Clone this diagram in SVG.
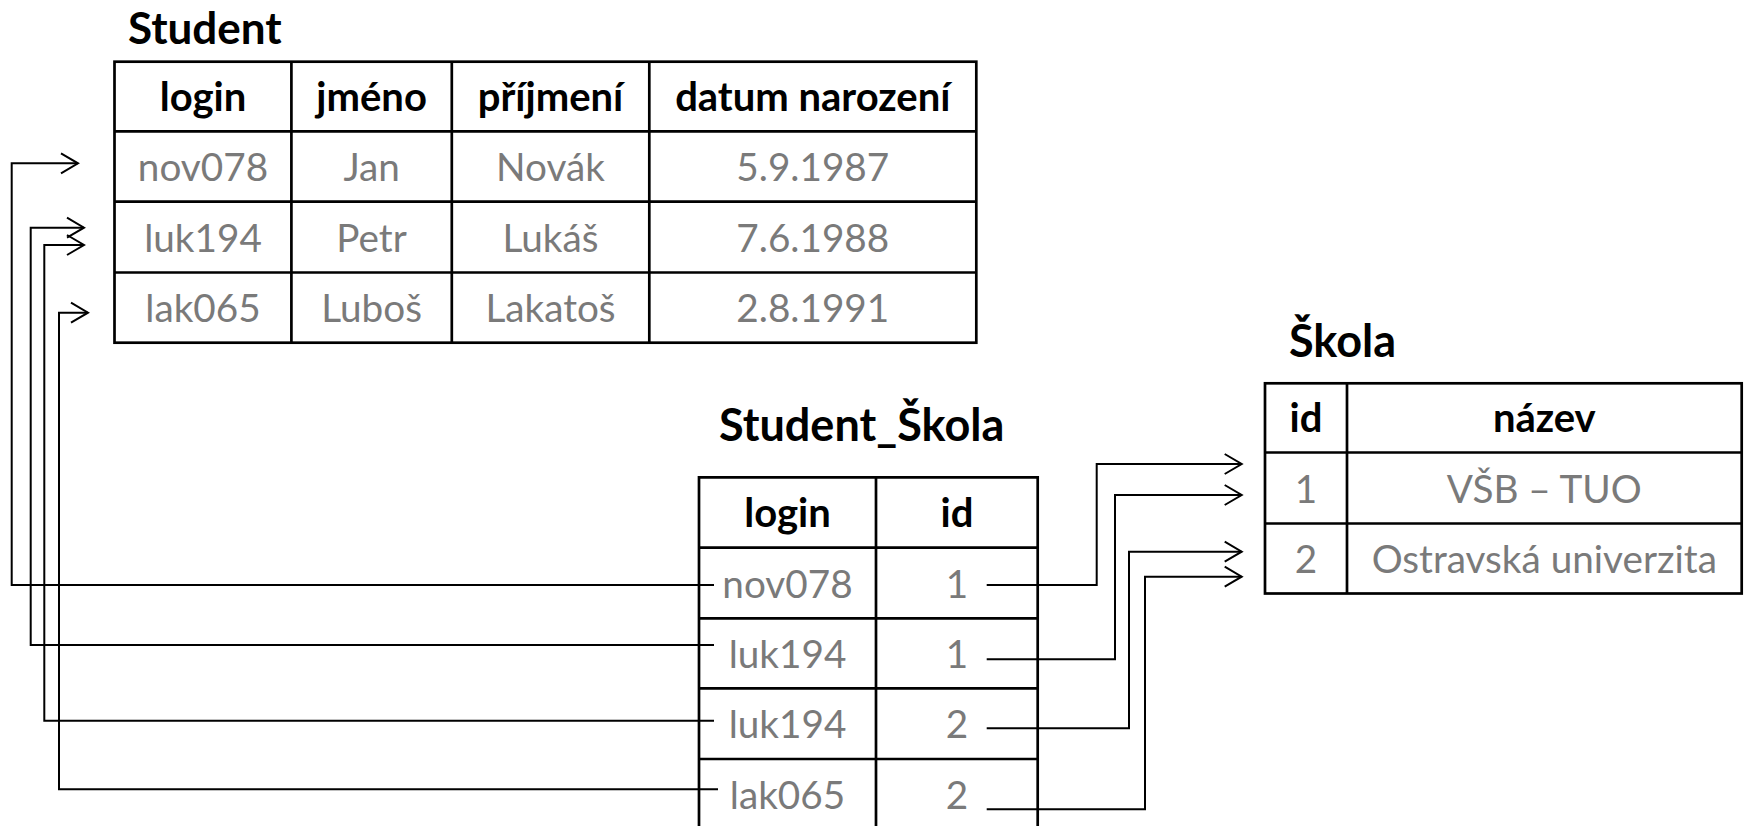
<svg xmlns="http://www.w3.org/2000/svg" width="1744" height="826" viewBox="0 0 1744 826">
<style>
.title{font-family:Lato,"Liberation Sans",sans-serif;font-weight:bold;font-size:45px;fill:#000;}
.h{font-family:Lato,"Liberation Sans",sans-serif;font-weight:bold;font-size:40px;fill:#000;text-anchor:middle;}
.c{font-family:Lato,"Liberation Sans",sans-serif;font-size:38.7px;fill:#7a7a7a;text-anchor:middle;}
.grid{stroke:#000;stroke-width:2.7;fill:none;}
.conn{stroke:#000;stroke-width:2;fill:none;}
</style>
<defs>
<marker id="arr" viewBox="-19 -12 21 24" refX="0" refY="0" markerWidth="21" markerHeight="24" markerUnits="userSpaceOnUse" orient="auto">
<path d="M-17,-10 L0,0 L-17,10" fill="none" stroke="#000" stroke-width="2"/>
</marker>
</defs>
<rect width="1744" height="826" fill="#fff"/>

<g id="student">
<text class="title" x="128" y="43.5" style="font-size:44px">Student</text>
<rect class="grid" x="114.5" y="61.7" width="861.8" height="281"/>
<path class="grid" d="M114.5,131.3H976.3M114.5,201.7H976.3M114.5,272.5H976.3M291.4,61.7V342.7M451.8,61.7V342.7M649.3,61.7V342.7"/>
<text class="h" x="203" y="110.5">login</text>
<text class="h" x="371.6" y="110.5">jméno</text>
<text class="h" x="550.5" y="110.5">příjmení</text>
<text class="h" x="812.8" y="110.5">datum narození</text>
<text class="c" x="203" y="181">nov078</text>
<text class="c" x="371.6" y="181">Jan</text>
<text class="c" x="550.5" y="181">Novák</text>
<text class="c" x="812.8" y="181">5.9.1987</text>
<text class="c" x="203" y="251.5">luk194</text>
<text class="c" x="371.6" y="251.5">Petr</text>
<text class="c" x="550.5" y="251.5">Lukáš</text>
<text class="c" x="812.8" y="251.5">7.6.1988</text>
<text class="c" x="203" y="322">lak065</text>
<text class="c" x="371.6" y="322">Luboš</text>
<text class="c" x="550.5" y="322">Lakatoš</text>
<text class="c" x="812.8" y="322">2.8.1991</text>
</g>

<g id="student_skola">
<text class="title" x="719" y="441">Student_Škola</text>
<path class="grid" d="M699,840V477.3H1037.7V840M699,547.7H1037.7M699,618.3H1037.7M699,688.3H1037.7M699,759H1037.7M876,477.3V840"/>
<text class="h" x="787.5" y="526.5">login</text>
<text class="h" x="957" y="526.5">id</text>
<text class="c" x="787.5" y="597.5">nov078</text>
<text class="c" x="957" y="597.5">1</text>
<text class="c" x="787.5" y="667.5">luk194</text>
<text class="c" x="957" y="667.5">1</text>
<text class="c" x="787.5" y="738">luk194</text>
<text class="c" x="957" y="738">2</text>
<text class="c" x="787.5" y="808.5">lak065</text>
<text class="c" x="957" y="808.5">2</text>
</g>

<g id="skola">
<text class="title" x="1289" y="357">Škola</text>
<rect class="grid" x="1265" y="383.3" width="476.7" height="210.2"/>
<path class="grid" d="M1265,452.5H1741.7M1265,523.5H1741.7M1347,383.3V593.5"/>
<text class="h" x="1306" y="432">id</text>
<text class="h" x="1544.3" y="432">název</text>
<text class="c" x="1306" y="502.5">1</text>
<text class="c" x="1544.3" y="502.5">VŠB – TUO</text>
<text class="c" x="1306" y="573">2</text>
<text class="c" x="1544.3" y="573">Ostravská univerzita</text>
</g>

<g id="connectors">
<polyline class="conn" points="714,585 11.7,585 11.7,163.3 78,163.3" marker-end="url(#arr)"/>
<polyline class="conn" points="714,645 30.7,645 30.7,227.7 84,227.7" marker-end="url(#arr)"/>
<polyline class="conn" points="714,720.7 44.3,720.7 44.3,245 84,245" marker-end="url(#arr)"/>
<polyline class="conn" points="718,789.3 59,789.3 59,312.7 88,312.7" marker-end="url(#arr)"/>
<polyline class="conn" points="986.7,585 1096.7,585 1096.7,464 1241.7,464" marker-end="url(#arr)"/>
<polyline class="conn" points="986.7,659.3 1115,659.3 1115,495 1241.7,495" marker-end="url(#arr)"/>
<polyline class="conn" points="986.7,728.3 1129,728.3 1129,551.7 1241.7,551.7" marker-end="url(#arr)"/>
<polyline class="conn" points="986.7,809.3 1145,809.3 1145,576.7 1241.7,576.7" marker-end="url(#arr)"/>
</g>
</svg>
